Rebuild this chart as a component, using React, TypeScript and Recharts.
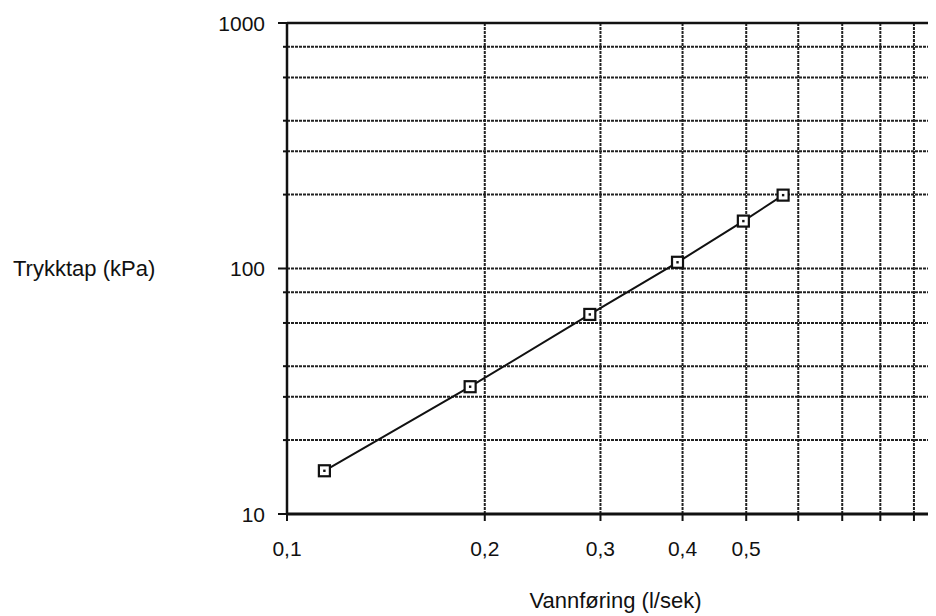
import { LineChart, Line, XAxis, YAxis, CartesianGrid, ReferenceLine } from "recharts"

// Vannføring (l/sek) vs trykktap (kPa)
const flow = [0.114, 0.19, 0.289, 0.393, 0.495, 0.569]
const loss = [15, 33, 65, 106, 156, 199]

const xTicks = [0.1, 0.2, 0.3, 0.4, 0.5, 0.6, 0.7, 0.8, 0.9, 1]
const xLabelled = [0.1, 0.2, 0.3, 0.4, 0.5]
const yTicks = [10, 20, 30, 40, 50, 60, 70, 80, 90, 100, 200, 300, 400, 500, 600, 700, 800, 900, 1000]
const yLabelled = [10, 100, 1000]

const data = flow.map((q, i) => ({ q, dp: loss[i] }))

const font = "'Liberation Sans', Arial, Helvetica, sans-serif"

function YTick(props: any) {
  const { x, y, payload } = props
  const major = yLabelled.includes(payload.value)
  const ax = x + 22
  return (
    <g>
      <line x1={ax - (major ? 9 : 4)} x2={ax} y1={y} y2={y} stroke="#111" strokeWidth={2} />
      {major && (
        <text x={x} y={y} dy="0.36em" textAnchor="end" fill="#111" fontSize={21} fontFamily={font}>
          {payload.value}
        </text>
      )}
    </g>
  )
}

function SquareDot(props: any) {
  const { cx, cy } = props
  if (cx == null || cy == null) return null
  return (
    <g>
      <rect x={cx - 5.5} y={cy - 5.5} width={11} height={11} fill="#fff" stroke="#111" strokeWidth={2.2} />
      <rect x={cx - 1.2} y={cy - 1.2} width={2.4} height={2.4} fill="#111" />
    </g>
  )
}

export default function App() {
  return (
    <div style={{ width: 928, height: 608, overflow: "hidden" }}>
      <LineChart width={936} height={608} data={data} margin={{ top: 15, right: 0, left: 0, bottom: 2 }}>
        <CartesianGrid stroke="#222" strokeWidth={2} strokeDasharray="3 1" />
        <XAxis
          dataKey="q"
          type="number"
          scale="log"
          domain={[0.1, 1]}
          ticks={xTicks}
          allowDataOverflow
          height={100}
          tickSize={7}
          tickMargin={20}
          axisLine={{ stroke: "#111", strokeWidth: 3 }}
          tickLine={{ stroke: "#111", strokeWidth: 2 }}
          tick={{ fill: "#111", fontSize: 21, fontFamily: font }}
          tickFormatter={(v: number) => (xLabelled.includes(v) ? String(v).replace(".", ",") : "")}
          label={{ value: "Vannføring (l/sek)", position: "insideBottom", offset: 6, fill: "#111", fontSize: 22, fontFamily: font }}
        />
        <YAxis
          dataKey="dp"
          type="number"
          scale="log"
          domain={[10, 1000]}
          ticks={yTicks}
          allowDataOverflow
          width={279}
          tickSize={9}
          tickMargin={13}
          axisLine={{ stroke: "#111", strokeWidth: 2.5 }}
          tickLine={false}
          tick={<YTick />}
          label={{ value: "Trykktap (kPa)", position: "insideLeft", offset: 5, fill: "#111", fontSize: 22, fontFamily: font }}
        />
        <ReferenceLine y={1000} stroke="#111" strokeWidth={2.5} />
        <Line
          dataKey="dp"
          stroke="#111"
          strokeWidth={2}
          dot={<SquareDot />}
          activeDot={false}
          isAnimationActive={false}
        />
      </LineChart>
    </div>
  )
}
